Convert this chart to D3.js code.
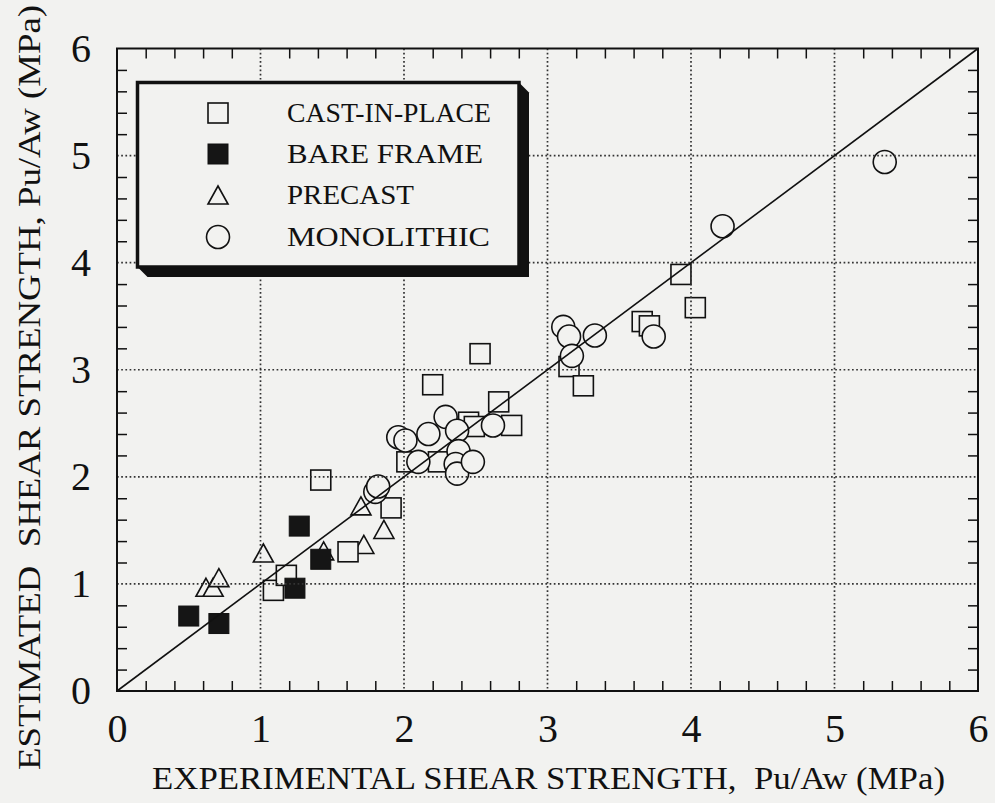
<!DOCTYPE html>
<html>
<head>
<meta charset="utf-8">
<script src="https://cdn.jsdelivr.net/npm/d3@7"></script>
<style>
  body { margin: 0; background: #f2f2f0; }
  svg { display: block; }
  text { font-family: "Liberation Serif", "Times New Roman", serif; fill: #111; }
</style>
</head>
<body>
<div id="chart"></div>
<script>
// experimental (x) vs estimated (y) shear strength, MPa
const castInPlace = [
    [1.09, 0.94], [1.18, 1.08], [1.42, 1.97], [1.61, 1.30], [1.91, 1.71],
    [2.02, 2.14], [2.24, 2.14], [2.20, 2.86], [2.45, 2.51], [2.49, 2.47],
    [2.53, 3.15], [2.66, 2.70], [2.75, 2.48], [3.15, 3.03], [3.25, 2.85],
    [3.66, 3.45], [3.71, 3.41], [3.93, 3.89], [4.03, 3.58]
];
const bareFrame = [[0.50, 0.70], [0.71, 0.63], [1.24, 0.96], [1.27, 1.54], [1.42, 1.23]];
const precast = [
    [0.62, 0.95], [0.67, 0.95], [0.71, 1.04], [1.02, 1.27], [1.44, 1.29],
    [1.70, 1.71], [1.72, 1.35], [1.86, 1.49]
];
const monolithic = [
    [1.80, 1.86], [1.82, 1.91], [1.96, 2.37], [2.01, 2.34], [2.10, 2.14],
    [2.17, 2.40], [2.29, 2.56], [2.37, 2.43], [2.38, 2.24], [2.36, 2.12],
    [2.37, 2.03], [2.48, 2.14], [2.62, 2.48], [3.11, 3.40], [3.15, 3.31],
    [3.17, 3.13], [3.33, 3.32], [3.74, 3.31], [4.22, 4.34], [5.35, 4.94]
];
const tickLabels = [0, 1, 2, 3, 4, 5, 6];
const legendNames = ['CAST-IN-PLACE', 'BARE FRAME', 'PRECAST', 'MONOLITHIC'];
const legendWidths = [204, 196, 127, 203];
const xTitle = 'EXPERIMENTAL SHEAR STRENGTH,  Pu/Aw (MPa)';
const yTitle = 'ESTIMATED  SHEAR STRENGTH, Pu/Aw (MPa)';

const bg = '#f2f2f0';
const width = 995, height = 803;
const plotL = 117, plotR = 978, plotT = 48.5, plotB = 691;

const x = d3.scaleLinear().domain([0, 6]).range([plotL, plotR]);
const y = d3.scaleLinear().domain([0, 6]).range([plotB, plotT]);

const svg = d3.select('#chart').append('svg')
    .attr('width', width)
    .attr('height', height);

svg.append('rect').attr('width', width).attr('height', height).attr('fill', bg);

// markers
const markers = svg.append('g');
const sq = 20;

function triangle(cx, cy) {
    const w = 20, h = 18;
    return `M${cx},${cy - h / 2 - 2}L${cx + w / 2},${cy + h / 2 - 2}L${cx - w / 2},${cy + h / 2 - 2}Z`;
}

markers.selectAll('.tri').data(precast).enter().append('path')
    .attr('class', 'tri')
    .attr('d', d => triangle(x(d[0]), y(d[1])))
    .attr('fill', bg).attr('stroke', '#111').attr('stroke-width', 1.6);

markers.selectAll('.sq').data(castInPlace).enter().append('rect')
    .attr('class', 'sq')
    .attr('x', d => x(d[0]) - sq / 2).attr('y', d => y(d[1]) - sq / 2)
    .attr('width', sq).attr('height', sq)
    .attr('fill', bg).attr('stroke', '#111').attr('stroke-width', 1.6);

markers.selectAll('.fsq').data(bareFrame).enter().append('rect')
    .attr('class', 'fsq')
    .attr('x', d => x(d[0]) - sq / 2).attr('y', d => y(d[1]) - sq / 2)
    .attr('width', sq).attr('height', sq)
    .attr('fill', '#151515').attr('stroke', '#111').attr('stroke-width', 1);

markers.selectAll('.circ').data(monolithic).enter().append('circle')
    .attr('class', 'circ')
    .attr('cx', d => x(d[0])).attr('cy', d => y(d[1]))
    .attr('r', 11.5)
    .attr('fill', bg).attr('stroke', '#111').attr('stroke-width', 1.6);

// dotted grid
const grid = svg.append('g');
[1, 2, 3, 4, 5].forEach(v => {
    grid.append('line')
        .attr('x1', x(v)).attr('x2', x(v)).attr('y1', plotT).attr('y2', plotB)
        .attr('stroke', '#333').attr('stroke-width', 1.7).attr('stroke-dasharray', '1.7,2.5');
    grid.append('line')
        .attr('y1', y(v)).attr('y2', y(v)).attr('x1', plotL).attr('x2', plotR)
        .attr('stroke', '#333').attr('stroke-width', 1.7).attr('stroke-dasharray', '1.7,2.5');
});

// 1:1 line
svg.append('line')
    .attr('x1', x(0)).attr('y1', y(0)).attr('x2', x(6)).attr('y2', y(6))
    .attr('stroke', '#111').attr('stroke-width', 1.6);

// frame ticks every 0.2, inward on all sides
const minor = d3.range(1, 30).map(i => i / 5).filter(v => Math.abs(v - Math.round(v)) > 1e-6);
const tickSize = 10;
function frameAxis(g) {
    g.selectAll('.domain').remove();
    g.selectAll('line').attr('stroke', '#111').attr('stroke-width', 1.5);
}
svg.append('g').attr('transform', `translate(0,${plotB})`)
    .call(d3.axisBottom(x).tickValues(minor).tickSize(-tickSize).tickFormat(''))
    .call(frameAxis);
svg.append('g').attr('transform', `translate(0,${plotT})`)
    .call(d3.axisTop(x).tickValues(minor).tickSize(-tickSize).tickFormat(''))
    .call(frameAxis);
svg.append('g').attr('transform', `translate(${plotL},0)`)
    .call(d3.axisLeft(y).tickValues(minor).tickSize(-tickSize).tickFormat(''))
    .call(frameAxis);
svg.append('g').attr('transform', `translate(${plotR},0)`)
    .call(d3.axisRight(y).tickValues(minor).tickSize(-tickSize).tickFormat(''))
    .call(frameAxis);

svg.append('rect')
    .attr('x', plotL).attr('y', plotT).attr('width', plotR - plotL).attr('height', plotB - plotT)
    .attr('fill', 'none').attr('stroke', '#111').attr('stroke-width', 2);

// tick labels
const xAxis = svg.append('g').attr('transform', `translate(0,${plotB})`)
    .call(d3.axisBottom(x).tickValues(tickLabels).tickSize(0).tickPadding(23).tickFormat(d3.format('d')));
xAxis.select('.domain').remove();
xAxis.selectAll('text').attr('font-size', 40).attr('fill', '#111');

const yAxis = svg.append('g').attr('transform', `translate(${plotL},0)`)
    .call(d3.axisLeft(y).tickValues(tickLabels).tickSize(0).tickPadding(26).tickFormat(d3.format('d')));
yAxis.select('.domain').remove();
yAxis.selectAll('text').attr('font-size', 40).attr('fill', '#111');

// axis titles
svg.append('text')
    .attr('x', 152).attr('y', 789)
    .attr('font-size', 31)
    .attr('textLength', 793).attr('lengthAdjust', 'spacingAndGlyphs')
    .style('white-space', 'pre')
    .text(xTitle);

svg.append('text')
    .attr('transform', 'translate(40,770) rotate(-90)')
    .attr('font-size', 31)
    .attr('textLength', 765).attr('lengthAdjust', 'spacingAndGlyphs')
    .style('white-space', 'pre')
    .text(yTitle);

// legend with drop shadow
const lg = {l: 137.5, t: 82.5, r: 519, b: 267, d: 10};
svg.append('polygon')
    .attr('points', [[lg.l, lg.b], [lg.l + lg.d, lg.b + lg.d], [lg.r + lg.d, lg.b + lg.d], [lg.r + lg.d, lg.t + lg.d], [lg.r, lg.t]].join(' '))
    .attr('fill', '#111');
svg.append('rect')
    .attr('x', lg.l).attr('y', lg.t).attr('width', lg.r - lg.l).attr('height', lg.b - lg.t)
    .attr('fill', bg).attr('stroke', '#111').attr('stroke-width', 3.5);

const rowY = [113, 154, 195, 237];
const symX = 218;
const lgItems = svg.append('g');
lgItems.append('rect').attr('x', symX - sq / 2).attr('y', rowY[0] - sq / 2).attr('width', sq).attr('height', sq)
    .attr('fill', bg).attr('stroke', '#111').attr('stroke-width', 1.6);
lgItems.append('rect').attr('x', symX - sq / 2).attr('y', rowY[1] - sq / 2).attr('width', sq).attr('height', sq)
    .attr('fill', '#151515').attr('stroke', '#111').attr('stroke-width', 1);
lgItems.append('path').attr('d', triangle(symX, rowY[2] + 2))
    .attr('fill', bg).attr('stroke', '#111').attr('stroke-width', 1.6);
lgItems.append('circle').attr('cx', symX).attr('cy', rowY[3]).attr('r', 11.5)
    .attr('fill', bg).attr('stroke', '#111').attr('stroke-width', 1.6);

lgItems.selectAll('.lt').data(legendNames).enter().append('text')
    .attr('class', 'lt')
    .attr('x', 287).attr('y', (d, i) => rowY[i] + 9)
    .attr('font-size', 27)
    .attr('textLength', (d, i) => legendWidths[i]).attr('lengthAdjust', 'spacingAndGlyphs')
    .text(d => d);
</script>
</body>
</html>
